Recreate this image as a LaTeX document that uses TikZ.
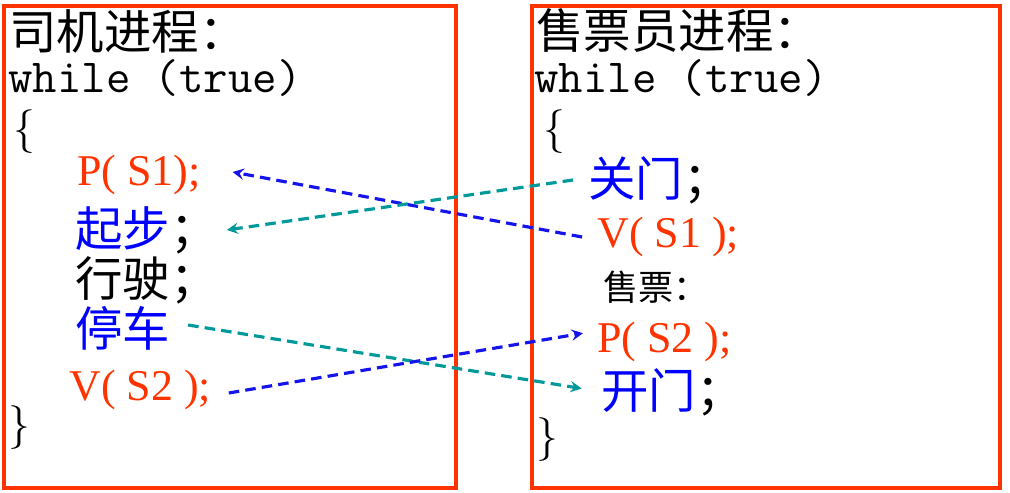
\documentclass[tikz,border=0pt]{standalone}
\usepackage{fontspec}
\setmainfont{Liberation Serif}
\newfontfamily\cjk{Noto Sans CJK SC}
\usetikzlibrary{arrows.meta}
\definecolor{procred}{RGB}{255,51,0}
\definecolor{procblue}{RGB}{0,0,255}
\definecolor{procteal}{RGB}{0,153,153}
\definecolor{arrblue}{RGB}{20,20,235}
\begin{document}
\begin{tikzpicture}[x=0.02cm,y=-0.02cm,
    procbox/.style={draw=procred,line width=1.9pt},
    line/.style={anchor=west,inner sep=0pt},
    title/.style={line,font=\cjk\fontsize{27}{30}\selectfont},
    code/.style={line,font=\ttfamily\fontsize{27}{30}\selectfont},
    brace/.style={line,font=\fontsize{26}{30}\selectfont},
    sem/.style={line,text=procred,font=\fontsize{25}{30}\selectfont},
    act/.style={line,font=\cjk\fontsize{27}{30}\selectfont},
    small/.style={line,font=\cjk\fontsize{20}{24}\selectfont},
    sync/.style={-stealth,line width=1.8pt,dash pattern=on 6pt off 3.5pt}]
    
    \useasboundingbox (0,0) rectangle (1010,493);
    \draw[procbox] (4,6) rectangle (456,488);
    \draw[procbox] (532,6) rectangle (1000,488);
    
    \node[title] (drv)  at (9,31)  {司机进程：};
    \node[code]  (dwh)  at (8,78)  {while (true)};
    \node[brace] (dob)  at (13,132) {$\{$};
    \node[sem]   (ps1)  at (77,175) {P( S1);};
    \node[act]   (qb)   at (75,230) {\textcolor{procblue}{起步}；};
    \node[act]   (xs)   at (75,280) {行驶；};
    \node[act]   (tc)   at (75,328) {\textcolor{procblue}{停车}};
    \node[sem]   (vs2)  at (69,390) {V( S2 );};
    \node[brace] (dcb)  at (8,428) {$\}$};
    
    \node[title] (sel)  at (536,31)  {售票员进程：};
    \node[code]  (swh)  at (534,78)  {while (true)};
    \node[brace] (sob)  at (543,132) {$\{$};
    \node[act]   (gm)   at (588,180) {\textcolor{procblue}{关门}；};
    \node[sem]   (vs1)  at (597,237) {V( S1 );};
    \node[small] (sp)   at (603,287) {售票：};
    \node[sem]   (ps2)  at (597,342) {P( S2 );};
    \node[act]   (km)   at (601,392) {\textcolor{procblue}{开门}；};
    \node[brace] (scb)  at (536,440) {$\}$};
    
    \draw[sync,arrblue]
    ([xshift=-8.5pt]vs1.west) -- ([xshift=18pt,yshift=1.7pt]ps1.east);
    
    \draw[sync,procteal]
    ([xshift=-8.5pt]gm.west) -- ([xshift=5pt]qb.east);
    
    \draw[sync,procteal]
    ([xshift=10pt,yshift=1.7pt]tc.east) -- ([xshift=-11pt,yshift=2pt]km.west);
    
    \draw[sync,arrblue]
    ([xshift=10pt,yshift=-1.7pt]vs2.east) -- ([xshift=-8pt,yshift=5pt]ps2.west);
    
\end{tikzpicture}
\end{document}
